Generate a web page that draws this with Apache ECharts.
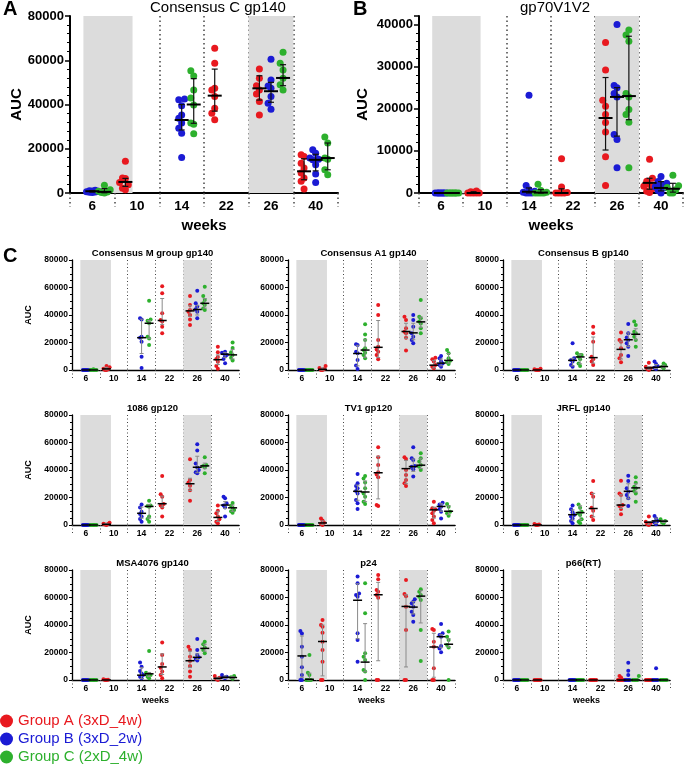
<!DOCTYPE html>
<html><head><meta charset="utf-8">
<script src="https://cdn.jsdelivr.net/npm/echarts@6/dist/echarts.min.js"></script>
<style>html,body{margin:0;padding:0;background:#fff}#c{width:684px;height:766px}</style>
</head><body><div id="c"></div>
<script>
// ---------- categories ----------
const weeks = ['6','10','14','22','26','40'];
const groupNames = ['Group A (3xD_4w)','Group B (3xD_2w)','Group C (2xD_4w)'];
// columns: B6, C6, A10, B14, C14, A22, A26, B26, C26, A40, B40, C40
const colWeek  = [0,0,1,2,2,3,4,4,4,5,5,5];
const colGroup = [1,2,0,1,2,0,0,1,2,0,1,2];
const panelTitles = ['Consensus C gp140','gp70V1V2','Consensus M group gp140','Consensus A1 gp140','Consensus B gp140','1086 gp120','TV1 gp120','JRFL gp140','MSA4076 gp140','p24','p66(RT)'];
const yTicksBig = [0,20000,40000,60000,80000];
const yTicksV1V2 = [0,10000,20000,30000,40000];

// ---------- Consensus C gp140 ----------
const conC_pts = [[1200,1000,800,600,500,300,900,200],[3500,1500,800,500,200,0],[14300,6800,6500,4800,3700,2200,1500],
 [42500,42100,39400,35300,33800,31600,29300,27000,16100],[55200,52900,46600,42900,39800,31600,31100,26800],[65400,58600,47400,46600,43600,38300,36100,33100],
 [56100,51900,46600,44700,41400,35300,48500],[60500,51100,48400,47400,43600,40600,37900],[63600,58600,55600,51900,48900,46600],
 [17300,16500,13500,11300,9000,6800,5300,1800],[19500,18000,15800,15300,12800,8600,4800,15000],[25300,22600,15800,15300,10500,8300]];
const conC_med = [800,500,5000,33000,40000,44000,47300,46000,52000,9800,15000,15800];
const conC_lo  = [400,100,3000,28500,31500,37000,42000,41000,48500,6000,10000,10500];
const conC_hi  = [1100,2000,6600,40000,51700,56000,53000,50000,58000,15500,17500,22600];

// ---------- gp70V1V2 ----------
const v1v2_pts = [[0,0,0,0,0,0,0,0],[0,0,0,0,0,0,0,0],[500,300,200,0,0,0,0,0],
 [23200,1800,800,400,200,0,0,0],[2100,600,200,0,0,0,0],[8100,1400,100,0,0,0,0],
 [35700,29200,22000,20600,18600,16700,14500,8600,1800],[40000,25500,25000,23600,22800,13900,12700,6000],[38700,37500,36000,23600,22800,19800,18600,16800,6000],
 [8000,3500,2800,2000,1600,1000,400,100],[3900,2700,2000,1500,1200,600,0,2300],[4200,1700,1300,800,0,0]];
const v1v2_med = [0,0,0,300,100,0,17800,22800,23000,2400,1200,1000];
const v1v2_lo  = [0,0,0,0,0,0,10200,13500,17400,900,500,200];
const v1v2_hi  = [0,0,300,1200,800,1000,27400,25000,37200,3500,2700,2300];

// ---------- Consensus M group gp140 ----------
const conM_pts = [[0,0,0,0,0,0,0],[500,0,0,0,0,0],[3000,2000,1000,500,0,0],
 [37600,36800,24200,23500,20600,9700,1500],[50400,36800,35900,34000,24200,23000,18200],[61000,55800,41200,36400,35200,31500,26700],
 [53800,47300,43600,42400,40000,36800,32700],[57700,48500,46100,44100,42400,37600],[60600,53800,50900,48500,47300,44800,43600],
 [17000,13000,9500,8000,6000,3000,1000],[13300,12500,12000,11000,10000,8000,5000],[20000,16000,13000,11000,9000,7000]];
const conM_med = [0,0,800,23500,34000,36000,43000,44000,48500,7500,11500,11000];
const conM_lo  = [0,0,200,12000,23000,33000,39000,40000,45000,4000,9000,8000];
const conM_hi  = [0,0,2000,37000,36000,52000,47000,47000,52000,11000,12800,15000];

// ---------- Consensus A1 gp140 ----------
const conA1_pts = [[0,0,0,0,0,0,0],[0,0,0,0,0,0],[3000,1500,800,0,0],
 [18700,18200,13300,12100,7300,3200,700],[33200,25900,21800,15800,14500,12600,10900,8500],[47300,40000,21800,17000,15000,13300,10900,7800],
 [38800,36400,30300,27900,26700,23500,14100],[40000,36400,31500,26700,24200,21800,19400],[50900,38800,37600,35200,33900,30300,26700],
 [9000,7800,6100,3600,2400,1200],[10200,8500,6100,4800,3600,2400],[14500,12100,8500,6800,5600,4400]];
const conA1_med = [0,0,500,12000,14500,16500,28000,27000,35000,3500,5000,7000];
const conA1_lo  = [0,0,0,3000,9000,9000,23000,22000,31000,1500,3000,5000];
const conA1_hi  = [0,0,1500,18000,22000,36000,34000,34000,38500,7000,8000,12000];

// ---------- Consensus B gp140 ----------
const conB_pts = [[0,0,0,0,0,0,0],[0,0,0,0,0,0],[1000,500,0,0,0],
 [19400,8500,7300,6100,3600,2400],[12100,10900,9700,7800,4800,2900,11000],[31500,26700,20600,9700,7800,6100,3600],
 [27200,21800,20600,15800,10900,8500,5600],[33500,26700,23700,21800,19400,17000,10200],[35200,32700,27900,26700,24200,21800,17000],
 [5300,2400,1200,700,0],[6100,4400,2900,1700,700],[4800,3600,2400,1200]];
const conB_med = [0,0,0,7000,9500,9000,15000,22000,26000,1500,2000,2500];
const conB_lo  = [0,0,0,3000,4500,5000,8000,17000,22000,500,1000,1500];
const conB_hi  = [0,0,500,8500,11500,24000,21000,27000,30000,2500,4000,3500];

// ---------- 1086 gp120 ----------
const p1086_pts = [[0,0,0,0,0,0,0],[0,0,0,0,0,0],[1700,1000,700,300,0],
 [15000,12800,9700,8000,6100,4400,2400],[17700,14100,13300,6100,4400,2400,13800],[35600,22300,20600,15300,14100,12800,6100],
 [47800,32700,30900,28500,25300,17700],[58700,54100,44800,41900,40000,38300,37600],[49200,43600,42900,41900,37600],
 [14100,10400,8500,6100,4100,2400,1200],[20600,19400,15800,14100,12800,6100],[16000,14000,12500,11000,10000,9000]];
const p1086_med = [0,0,500,8500,13500,15500,30000,42000,43000,5500,14500,12500];
const p1086_lo  = [0,0,200,5000,5000,13000,25000,38000,41000,2500,12000,10000];
const p1086_hi  = [0,0,1000,13000,15000,21000,34000,50000,45000,10000,17000,14500];

// ---------- TV1 gp120 ----------
const tv1_pts = [[0,0,0,0,0,0,0],[0,0,0,0,0,0],[4800,3200,1700,700,0],
 [37100,30300,28400,26700,24700,23000,18200,15800,11600],[35600,33900,31000,26700,23000,20600,17000,15300],[56500,49200,43600,38300,36800,34700,14500,13800],
 [49200,48000,40000,36400,32700,30300,28400],[56500,48500,47300,42900,42400,40500,35200],[52100,48500,46100,43600,42400,40000],
 [17000,12100,10400,8500,6100,3600,1200,11500],[16200,15000,13300,11600,9700,4800],[15300,13300,9700,8500,6800]];
const tv1_med = [0,0,1500,24500,24000,38000,41000,42500,43500,11000,13500,10000];
const tv1_lo  = [0,0,500,18000,17000,19000,30000,39000,41000,5000,10000,7500];
const tv1_hi  = [0,0,3000,29000,32000,50000,47000,48000,48500,13000,15500,14000];

// ---------- JRFL gp140 ----------
const jrfl_pts = [[0,0,0,0,0,0,0],[0,0,0,0,0,0],[800,300,0,0],
 [14100,11400,9200,7300,6100,4800,2900,1200],[15000,12600,9700,8500,7300,4100,2400,1200],[32000,23000,20600,12600,10400,6100,3600],
 [32200,23000,21800,14500,13800,11600,7800],[35900,32000,26700,24200,21800,19400,13800],[34700,30800,27900,26700,24700,23000,17000],
 [6100,2400,1200,500,0],[6500,4800,2900,1900,500],[4100,2900,1900,1200]];
const jrfl_med = [0,0,0,7500,9000,12000,14500,24500,27000,2000,3000,2800];
const jrfl_lo  = [0,0,0,3500,4000,6000,12000,19000,24000,500,1000,1800];
const jrfl_hi  = [0,0,300,11000,14000,23000,22000,30000,30000,2500,5000,3200];

// ---------- MSA4076 gp140 ----------
const msa_pts = [[0,0,0,0,0,0,0],[0,0,0,0,0,0],[500,200,0,0],
 [12800,9700,6500,4800,3600,2400,1200],[21100,5300,4400,3600,2400,1200],[27200,18200,11600,9000,6100,3600,1200],
 [24200,21800,17000,13800,10200,6100,2400],[29800,21800,18200,16500,15300,14100],[27900,26000,23700,21800,19400],
 [2900,1700,700,0],[3600,2400,1200,2000],[3000,2000,1000]];
const msa_med = [0,0,0,3500,4500,9500,14000,16500,23000,1200,2000,1800];
const msa_lo  = [0,0,0,1000,2500,4000,9000,15000,21000,300,1200,1000];
const msa_hi  = [0,0,0,9000,5500,19000,21000,19000,26000,2000,3000,2500];

// ---------- p24 ----------
const p24_pts = [[35600,33900,24200,17000,9200,3600,0,0],[18200,5300,3600,0,0,0,0],[43600,40000,38800,34400,27900,21800,13300,0,0],
 [75200,70300,63000,61800,60600,34000,29100,13300],[70300,48500,19400,17000,14500,7300,6100,0],[76400,73200,65500,64200,61800,59900,0,0],
 [72700,62500,61000,53300,36400,0,0],[58700,57000,55800,53300,49700,47300,42400],[66000,64200,61800,60600,58200,36400,13800],
 [37100,36400,27900,24200,8500,0,0],[40700,34000,32700,31500,24700,23000,20100],[35200,31500,29100,25500,23700,0]];
const p24_med = [17500,500,28000,58000,13000,62000,53500,53000,61000,24000,31500,26000];
const p24_lo  = [2000,0,3000,30000,6000,14000,9500,48000,41500,2000,23500,24000];
const p24_hi  = [32000,5000,40000,70000,41000,71000,62000,57000,65000,34000,33000,30000];

// ---------- p66(RT) ----------
const p66_pts = [[0,0,0,0,0,0,0,0],[0,0,0,0,0,0,0],[0,0,0,0,0,0],
 [0,0,0,0,0,0,0],[0,0,0,0,0,0],[0,0,0,0,0,0],
 [2900,1900,0,0,0,0,0],[12600,6800,3600,0,0,0,0],[2900,0,0,0,0],
 [0,0,0,0,0,0],[8500,0,0,0,0],[0,0,0,0,0]];
const p66_med = [0,0,0,0,0,0,0,0,0,0,0,0];
const p66_lo  = [0,0,0,0,0,0,0,0,0,0,0,0];
const p66_hi  = [0,0,0,0,0,0,0,0,0,0,0,0];

// ---------- styling / layout ----------
const FONT = "'Liberation Sans', Arial, Helvetica, sans-serif";
const colors = ['#e8191f','#1b1bd4','#2db02d'];
const groupOffset = [-0.26, 0, 0.27];

const panelData = [
  [conC_pts,conC_med,conC_lo,conC_hi],[v1v2_pts,v1v2_med,v1v2_lo,v1v2_hi],
  [conM_pts,conM_med,conM_lo,conM_hi],[conA1_pts,conA1_med,conA1_lo,conA1_hi],[conB_pts,conB_med,conB_lo,conB_hi],
  [p1086_pts,p1086_med,p1086_lo,p1086_hi],[tv1_pts,tv1_med,tv1_lo,tv1_hi],[jrfl_pts,jrfl_med,jrfl_lo,jrfl_hi],
  [msa_pts,msa_med,msa_lo,msa_hi],[p24_pts,p24_med,p24_lo,p24_hi],[p66_pts,p66_med,p66_lo,p66_hi]
];
const smallLeft = [72,288,503], smallTop = [260,415,570];
const layouts = [
  {left:70, top:16, width:268, height:177, big:true, ymax:80000, ticks:yTicksBig, weeks:true, auc:true, aucGap:44},
  {left:419, top:16, width:264, height:177, big:true, ymax:42000, ticks:yTicksV1V2, weeks:true, auc:true, aucGap:49}
];
for (let r=0;r<3;r++) for (let c=0;c<3;c++) {
  layouts.push({left:smallLeft[c], top:smallTop[r], width:167, height:110, big:false, ymax:80000, ticks:yTicksBig, weeks:r===2, auc:c===0, aucGap:39});
}

function swarm(vals, thr, step, maxK) {
  const order = vals.map((v,i)=>i).sort((a,b)=>vals[a]-vals[b]);
  const off = new Array(vals.length).fill(0);
  const placed = [];
  const cands = [0];
  for (let k=1;k<=maxK;k++) cands.push(-k,k);
  for (const i of order) {
    const used = placed.filter(j => Math.abs(vals[j]-vals[i]) < thr).map(j => off[j]);
    let pick = cands.find(c => !used.includes(c));
    if (pick === undefined) {
      const counts = cands.map(c => used.filter(u => u===c).length);
      pick = cands[counts.indexOf(Math.min(...counts))];
    }
    off[i] = pick; placed.push(i);
  }
  return off.map(k => k*step);
}

const grid = [], xAxis = [], yAxis = [], series = [];
layouts.forEach((L, p) => {
  const big = L.big;
  grid.push({left:L.left, top:L.top, width:L.width, height:L.height});
  const dot = big ? [1.5,3] : [1,2.5];
  xAxis.push({
    type:'category', gridIndex:p, data:weeks, boundaryGap:true,
    axisLine:{show:true, onZero:false, lineStyle:{color:'#000', width: big?2:1.3}},
    axisTick:{show:true, length: big?14:9, lineStyle:{color:'#444', width: big?1.5:1, type:dot}},
    axisLabel:{color:'#000', fontFamily:FONT, fontWeight:'bold', fontSize: big?13.5:8.5, margin: big?6:4},
    splitLine:{show:true, showMinLine:false, showMaxLine:false, lineStyle:{color:'#444', width: big?1.5:1, type:dot}},
    name: L.weeks ? 'weeks' : '', nameLocation:'middle', nameGap: big?25:16,
    nameTextStyle:{color:'#000', fontFamily:FONT, fontWeight:'bold', fontSize: big?15:9}
  });
  xAxis.push({type:'value', gridIndex:p, min:-0.5, max:5.5, show:false, axisLine:{onZero:false}});
  yAxis.push({
    type:'value', gridIndex:p, min:0, max:L.ymax, interval:L.ticks[1]-L.ticks[0],
    axisLine:{show:true, onZero:false, lineStyle:{color:'#000', width: big?2:1.3}},
    axisTick:{show:true, length: big?5:3, lineStyle:{color:'#000', width: big?1.5:1}},
    minorTick:{show:true, splitNumber: big?5:4, length: big?3:2, lineStyle:{color:'#000', width:1}},
    splitLine:{show:false},
    axisLabel:{color:'#000', fontFamily:FONT, fontWeight:'bold', fontSize: big?13:8.5, margin: big?6:4,
      formatter: v => L.ticks.includes(v) ? String(v) : ''},
    name: L.auc ? 'AUC' : '', nameLocation:'middle', nameRotate:90, nameGap:L.aucGap,
    nameTextStyle:{color:'#000', fontFamily:FONT, fontWeight:'bold', fontSize: big?15:9}
  });
  const xi = 2*p+1;
  // background grey bands
  series.push({
    type:'scatter', xAxisIndex:xi, yAxisIndex:p, data:[], symbolSize:0, silent:true, z:0,
    markArea:{silent:true, itemStyle:{color:'#dcdcdc'}, label:{show:false},
      data:[[{xAxis:-0.2},{xAxis:0.9}],[{xAxis:3.5},{xAxis:4.5}]]}
  });
  const [pts, med, lo, hi] = panelData[p];
  const step = big ? 0.065 : 0.055;
  const thr = L.ymax * (big ? 0.045 : 0.04);
  const groupData = [[],[],[]];
  pts.forEach((vals, c) => {
    const offs = swarm(vals, thr, step, 2);
    const g = colGroup[c];
    vals.forEach((v,i) => groupData[g].push([colWeek[c] + groupOffset[g] + offs[i], v]));
  });
  groupData.forEach((d,g) => {
    series.push({type:'scatter', name:groupNames[g], xAxisIndex:xi, yAxisIndex:p, data:d,
      symbolSize: big?7:4, itemStyle:{color:colors[g], opacity:1}, z:3, animation:false});
  });
  const ebData = med.map((m,c) => [colWeek[c] + groupOffset[colGroup[c]], m, lo[c], hi[c]]);
  const ebColor = (p < 2) ? '#111' : '#8a8a8a';
  series.push({
    type:'custom', xAxisIndex:xi, yAxisIndex:p, data:ebData, z:4, silent:true, animation:false,
    encode:{x:0, y:[1,2,3]},
    renderItem: (params, api) => {
      const x = api.value(0), m = api.value(1), l = api.value(2), h = api.value(3);
      const pm = api.coord([x,m]), pl = api.coord([x,l]), ph = api.coord([x,h]);
      const ch = [];
      const cap = big ? 3 : 2, mh = big ? 7 : 4.5;
      if (pl[1] - ph[1] > 1) {
        const st = {stroke:ebColor, lineWidth: big?1.2:1};
        ch.push({type:'line', shape:{x1:pm[0], y1:pl[1], x2:pm[0], y2:ph[1]}, style:st});
        ch.push({type:'line', shape:{x1:pm[0]-cap, y1:pl[1], x2:pm[0]+cap, y2:pl[1]}, style:st});
        ch.push({type:'line', shape:{x1:pm[0]-cap, y1:ph[1], x2:pm[0]+cap, y2:ph[1]}, style:st});
      }
      ch.push({type:'line', shape:{x1:pm[0]-mh, y1:pm[1], x2:pm[0]+mh, y2:pm[1]}, style:{stroke:'#000', lineWidth: big?2:1.5}});
      return {type:'group', children:ch};
    }
  });
});

// titles and panel letters
const graphic = [
  {type:'text', left:3, top:-1, style:{text:'A', font:'bold 20px '+FONT, fill:'#000'}},
  {type:'text', left:353, top:-1, style:{text:'B', font:'bold 20px '+FONT, fill:'#000'}},
  {type:'text', left:3, top:246, style:{text:'C', font:'bold 20px '+FONT, fill:'#000'}},
  {type:'text', x:218, y:8, style:{text:panelTitles[0], font:'15px '+FONT, fill:'#000', align:'center', verticalAlign:'middle'}},
  {type:'text', x:555, y:8, style:{text:panelTitles[1], font:'15px '+FONT, fill:'#000', align:'center', verticalAlign:'middle'}}
];
const titleY = [253, 408, 563];
for (let k=2;k<11;k++) {
  const L = layouts[k];
  const r = Math.floor((k-2)/3);
  graphic.push({type:'text', x:L.left + L.width/2 - 3, y:titleY[r],
    style:{text:panelTitles[k], font:'bold 9.5px '+FONT, fill:'#000', align:'center', verticalAlign:'middle'}});
}

const chart = echarts.init(document.getElementById('c'), null, {renderer:'canvas'});
chart.setOption({
  animation:false,
  backgroundColor:'#fff',
  textStyle:{fontFamily:FONT},
  grid, xAxis, yAxis, series, graphic,
  legend:{orient:'vertical', left:0, top:713, padding:0, itemGap:2, itemWidth:13, itemHeight:13, icon:'circle',
    selectedMode:false,
    textStyle:{fontSize:15, lineHeight:16, fontFamily:FONT},
    data: groupNames.map((n,g) => ({name:n, textStyle:{color:colors[g], fontSize:15, lineHeight:16}}))}
});
</script>
</body></html>
